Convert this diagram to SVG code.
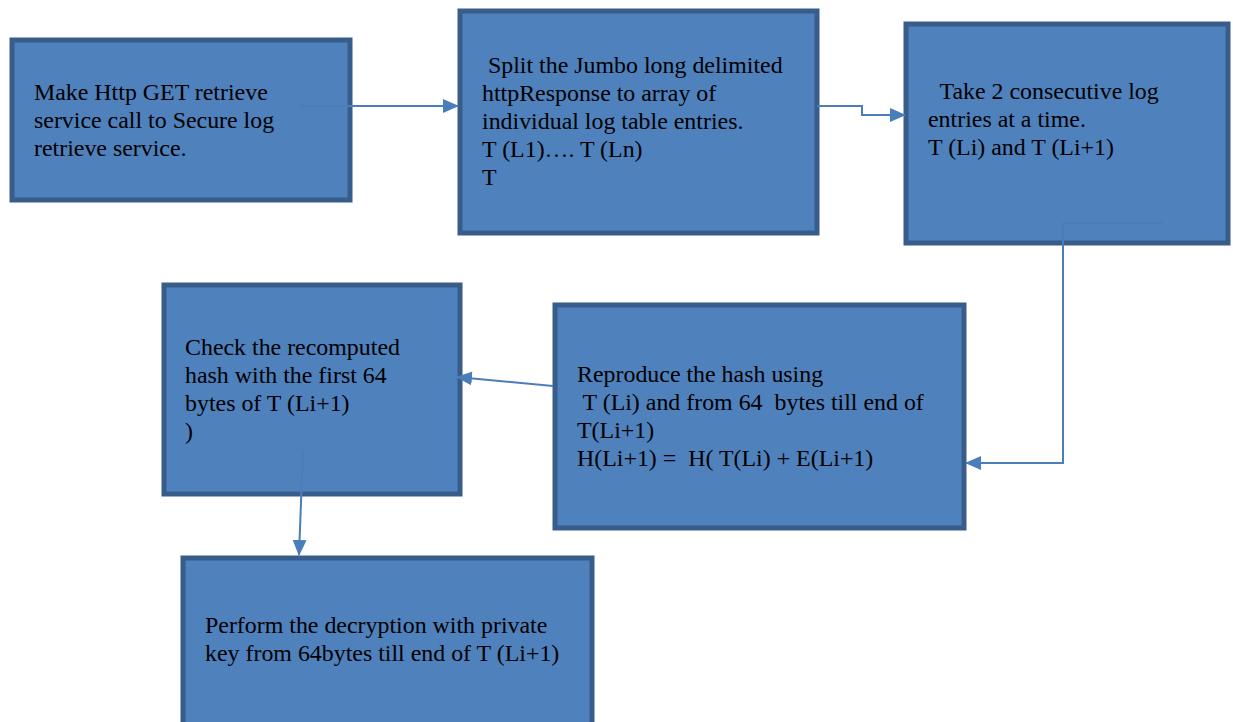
<svg xmlns="http://www.w3.org/2000/svg" width="1233" height="722" viewBox="0 0 1233 722">
<style>
.box{fill:#4F81BD;stroke:#385D8A;stroke-width:5}
.t{font-family:"Liberation Serif","Times New Roman",serif;font-size:23.9px;fill:#000}
.c{fill:none;stroke:#4A7EBB;stroke-width:2}
</style>
<defs>
<marker id="ah" markerUnits="userSpaceOnUse" markerWidth="16" markerHeight="14" refX="15" refY="7" orient="auto">
<path d="M0,0 L16,7 L0,14 Z" fill="#4A7EBB"/>
</marker>
</defs>
<rect width="1233" height="722" fill="#fff"/>
<g id="n1">
<rect class="box" x="12" y="40" width="338" height="160"/>
<text class="t" x="34" y="100">Make Http GET retrieve</text>
<text class="t" x="34" y="128">service call to Secure log</text>
<text class="t" x="34" y="156">retrieve service.</text>
</g>
<g id="n2">
<rect class="box" x="460" y="11" width="357" height="222"/>
<text class="t" x="482" y="73" xml:space="preserve"> Split the Jumbo long delimited</text>
<text class="t" x="482" y="101">httpResponse to array of</text>
<text class="t" x="482" y="129">individual log table entries.</text>
<text class="t" x="482" y="157">T (L1)…. T (Ln)</text>
<text class="t" x="482" y="185">T</text>
</g>
<g id="n3">
<rect class="box" x="906" y="24" width="322" height="219"/>
<text class="t" x="928" y="99" xml:space="preserve">  Take 2 consecutive log</text>
<text class="t" x="928" y="127">entries at a time.</text>
<text class="t" x="928" y="155">T (Li) and T (Li+1)</text>
</g>
<g id="n4">
<rect class="box" x="555" y="305" width="409" height="223"/>
<text class="t" x="577" y="382">Reproduce the hash using</text>
<text class="t" x="577" y="410" xml:space="preserve"> T (Li) and from 64  bytes till end of</text>
<text class="t" x="577" y="438">T(Li+1)</text>
<text class="t" x="577" y="466" xml:space="preserve">H(Li+1) =  H( T(Li) + E(Li+1)</text>
</g>
<g id="n5">
<rect class="box" x="164" y="285" width="296" height="209"/>
<text class="t" x="185" y="355">Check the recomputed</text>
<text class="t" x="185" y="383">hash with the first 64</text>
<text class="t" x="185" y="411">bytes of T (Li+1)</text>
<text class="t" x="185" y="439">)</text>
</g>
<g id="n6">
<rect class="box" x="183" y="558" width="409" height="170"/>
<text class="t" x="205" y="633">Perform the decryption with private</text>
<text class="t" x="205" y="661">key from 64bytes till end of T (Li+1)</text>
</g>
<g id="connectors">
<path class="c" d="M300,106 L458,106" marker-end="url(#ah)"/>
<path class="c" d="M817,106 L862,106 L862,115 L905,115" marker-end="url(#ah)"/>
<path class="c" d="M1163,223 L1063,223 L1063,463 L966,463" marker-end="url(#ah)"/>
<path class="c" d="M553,386 L457,377" marker-end="url(#ah)"/>
<path class="c" d="M303,450 L299,555" marker-end="url(#ah)"/>
</g>
</svg>
